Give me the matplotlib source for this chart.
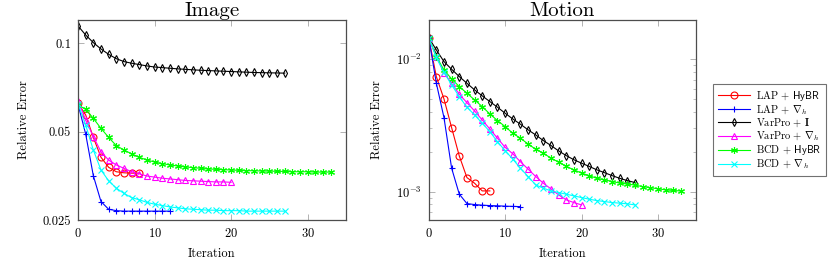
import numpy as np
import matplotlib
matplotlib.use("Agg")
import matplotlib.pyplot as plt
from matplotlib.ticker import NullFormatter, FixedLocator, FixedFormatter, NullLocator

# ---- data ----
labels = [r"LAP + $\mathsf{HyBR}$", r"LAP + $\nabla_h$", r"VarPro + $\mathbf{I}$",
          r"VarPro + $\nabla_h$", r"BCD + $\mathsf{HyBR}$", r"BCD + $\nabla_h$"]

# Image panel
img_lap_hybr = [0.0625, 0.0570, 0.0478, 0.0409, 0.0378, 0.0365, 0.0362, 0.0361, 0.0361]
img_lap_grad = [0.0620, 0.0491, 0.0354, 0.0289, 0.0272, 0.0269, 0.0268, 0.0268, 0.0268,
                0.0268, 0.0268, 0.0268, 0.0268]
img_varpro_i = [0.1146, 0.1067, 0.1005, 0.0956, 0.0917, 0.0886, 0.0866, 0.0855, 0.0846,
                0.0837, 0.0830, 0.0826, 0.0822, 0.0818, 0.0815, 0.0812, 0.0809, 0.0807,
                0.0805, 0.0803, 0.0801, 0.0799, 0.0797, 0.0795, 0.0794, 0.0793, 0.0792, 0.0791]
img_varpro_grad = [0.0638, 0.0548, 0.0481, 0.0427, 0.0400, 0.0385, 0.0375, 0.0365, 0.0359,
                   0.0353, 0.0350, 0.0347, 0.0345, 0.0343, 0.0341, 0.0340, 0.0339, 0.0338,
                   0.0337, 0.0337, 0.0336]
img_bcd_hybr = [0.0616, 0.0596, 0.0555, 0.0513, 0.0478, 0.0448, 0.0433, 0.0420, 0.0409,
                0.0400, 0.0394, 0.0389, 0.0385, 0.0382, 0.0379, 0.0377, 0.0375, 0.0373,
                0.0372, 0.0371, 0.0370, 0.0369, 0.0368, 0.0368, 0.0367, 0.0367, 0.0366,
                0.0366, 0.0365, 0.0365, 0.0365, 0.0364, 0.0364, 0.0364]
img_bcd_grad = [0.0622, 0.0527, 0.0433, 0.0370, 0.0340, 0.0321, 0.0308, 0.0298, 0.0293,
                0.0287, 0.0283, 0.0280, 0.0277, 0.0275, 0.0273, 0.0272, 0.0271, 0.0270,
                0.0270, 0.0269, 0.0269, 0.0269, 0.0268, 0.0268, 0.0268, 0.0268, 0.0268, 0.0268]

# Motion panel
mot_lap_hybr = [0.01456, 0.00739, 0.00501, 0.00304, 0.00186, 0.001276, 0.001157,
                0.001012, 0.001012]
mot_lap_grad = [0.01456, 0.00659, 0.00362, 0.001502, 0.000957, 0.000812, 0.000798,
                0.000790, 0.000784, 0.000781, 0.000776, 0.000773, 0.000770]
mot_varpro_i = [0.01458, 0.01176, 0.00960, 0.00840, 0.00740, 0.00659, 0.00587, 0.00529,
                0.00479, 0.00434, 0.00391, 0.00354, 0.00323, 0.00293, 0.00268, 0.00243,
                0.00223, 0.00203, 0.00187, 0.00174, 0.00164, 0.00155, 0.00146, 0.00139,
                0.00132, 0.00126, 0.00121, 0.00117]
mot_varpro_grad = [0.01456, 0.01041, 0.00792, 0.00659, 0.00544, 0.00470, 0.00407, 0.00348,
                   0.00297, 0.00253, 0.00216, 0.00193, 0.00168, 0.00148, 0.00130, 0.001157,
                   0.001048, 0.000944, 0.000866, 0.000826, 0.000793]
mot_bcd_hybr = [0.01458, 0.01047, 0.00831, 0.00710, 0.00622, 0.00554, 0.00493, 0.00439,
                0.00386, 0.00344, 0.00310, 0.00276, 0.00253, 0.00229, 0.00209, 0.00195,
                0.00179, 0.00167, 0.00155, 0.00146, 0.00138, 0.00132, 0.00126, 0.00123,
                0.00119, 0.00116, 0.00114, 0.00112, 0.00109, 0.00107, 0.00105, 0.00103,
                0.00102, 0.00101]
mot_bcd_grad = [0.01456, 0.01032, 0.00795, 0.00640, 0.00522, 0.00434, 0.00380, 0.00329,
                0.00284, 0.00238, 0.00204, 0.00176, 0.00150, 0.00130, 0.001123, 0.001061,
                0.001012, 0.000983, 0.000956, 0.000928, 0.000901, 0.000876, 0.000855,
                0.000841, 0.000826, 0.000818, 0.000808, 0.000793]

img_series = [img_lap_hybr, img_lap_grad, img_varpro_i, img_varpro_grad, img_bcd_hybr, img_bcd_grad]
mot_series = [mot_lap_hybr, mot_lap_grad, mot_varpro_i, mot_varpro_grad, mot_bcd_hybr, mot_bcd_grad]

img_yticks = [0.025, 0.05, 0.1]
img_yticklabels = ["0.025", "0.05", "0.1"]
xticks = [0, 10, 20, 30]

# ---- styles (pgfplots-like) ----
colors = ["#ff0000", "#0000ff", "#000000", "#ff00ff", "#00ff00", "#00ffff"]
markers = ["o", "+", "d", "^", (6, 2, 0), "x"]
msizes = [5, 5, 3.6, 4.2, 5, 4]

plt.rcParams["font.family"] = "cmr10"
plt.rcParams["mathtext.fontset"] = "cm"
plt.rcParams["axes.formatter.use_mathtext"] = True
plt.rcParams["axes.unicode_minus"] = False

fig = plt.figure(figsize=(8.3, 2.66), dpi=100)
ax1 = fig.add_axes([78 / 830, 1 - 220 / 266, 268 / 830, 200 / 266])
ax2 = fig.add_axes([428.7 / 830, 1 - 220 / 266, 267.5 / 830, 200 / 266])


def draw(ax, series):
    handles = []
    for s, c, m, ms in zip(series, colors, markers, msizes):
        x = np.arange(len(s))
        h, = ax.plot(x, s, color=c, marker=m, markersize=ms, linewidth=0.8,
                     markerfacecolor="none", markeredgewidth=0.8)
        handles.append(h)
    ax.set_yscale("log")
    ax.set_xlim(0, 35)
    ax.set_xticks(xticks)
    ax.set_xlabel("Iteration", fontsize=9, labelpad=6)
    ax.set_ylabel("Relative Error", fontsize=9, labelpad=9)
    ax.tick_params(which="both", direction="in", top=True, right=True,
                   color="0.65", labelsize=9)
    ax.tick_params(which="major", length=4, width=0.6, pad=5)
    ax.tick_params(which="minor", length=2.2, width=0.5)
    for sp in ax.spines.values():
        sp.set_color("0.3")
        sp.set_linewidth(0.9)
    return handles


handles = draw(ax1, img_series)
ax1.set_ylim(0.025, 0.12)
ax1.yaxis.set_major_locator(FixedLocator(img_yticks))
ax1.yaxis.set_major_formatter(FixedFormatter(img_yticklabels))
ax1.yaxis.set_minor_locator(NullLocator())
ax1.set_title("Image", fontsize=15, pad=1)

draw(ax2, mot_series)
ax2.set_ylim(0.00061, 0.0198)
ax2.yaxis.set_minor_formatter(NullFormatter())
ax2.set_title("Motion", fontsize=15, pad=1)

leg = fig.legend(handles, labels, loc="center", bbox_to_anchor=(769.5 / 830, 1 - 130 / 266),
                 fontsize=7.5, frameon=True, fancybox=False, handlelength=3.1,
                 handletextpad=0.5, labelspacing=0.02, borderpad=0.45)
leg.get_frame().set_edgecolor("0.3")
leg.get_frame().set_linewidth(0.8)

fig.savefig("out.png", dpi=100)
